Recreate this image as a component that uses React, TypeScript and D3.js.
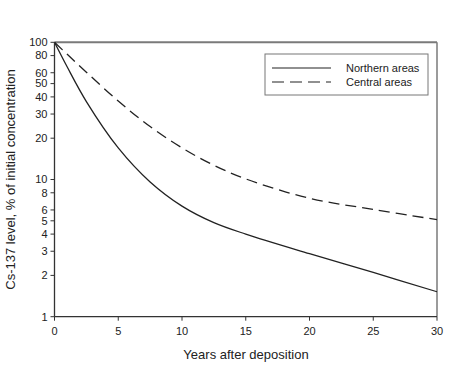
import React from 'react';
import * as d3 from 'd3';

// values (percent of initial concentration)
const years = [0, 1, 2.5, 5, 7.5, 10, 12.5, 15, 20, 25, 30];
const northern = [100, 66, 37, 17, 9.6, 6.4, 4.85, 4.0, 2.88, 2.1, 1.52];
const central = [100, 81.7, 60.5, 37.3, 24.3, 17.0, 12.7, 10.1, 7.3, 6.05, 5.1];

const xTicks = [0, 5, 10, 15, 20, 25, 30];
const yTicks = [1, 2, 3, 4, 5, 6, 8, 10, 20, 30, 40, 50, 60, 80, 100];

const seriesNames = ['Northern areas', 'Central areas'];

const W = 474;
const H = 366;
const margin = { left: 54.5, right: 37, top: 42.3, bottom: 49.3 };

const font = 'Liberation Sans, Arial, sans-serif';

const App: React.FC = () => {
  const x = d3.scaleLinear().domain([0, 30]).range([margin.left, W - margin.right]);
  const y = d3.scaleLog().domain([1, 100]).range([H - margin.bottom, margin.top]);

  const line = d3
    .line<number>()
    .x((_, i) => x(years[i]))
    .y(d => y(d))
    .curve(d3.curveCatmullRom.alpha(0.5));

  const x0 = x(0);
  const x1 = x(30);
  const y0 = y(1);
  const y1 = y(100);

  // legend box
  const lg = { x: 265, y: 54, w: 163, h: 41 };

  return (
    <svg
      width={W}
      height={H}
      style={{ position: 'absolute', left: 0, top: 0, background: '#fff' }}
      fontFamily={font}
    >
      {/* top and right frame */}
      <line x1={x0} x2={x1} y1={y1} y2={y1} stroke="#7a7a7a" strokeWidth={2} />
      <line x1={x1} x2={x1} y1={y1} y2={y0} stroke="#7a7a7a" strokeWidth={1.5} />

      {/* curves */}
      <path d={line(northern) || ''} fill="none" stroke="#222" strokeWidth={1.3} />
      <path
        d={line(central) || ''}
        fill="none"
        stroke="#222"
        strokeWidth={1.3}
        strokeDasharray="11,6"
      />

      {/* left axis */}
      <line x1={x0} x2={x0} y1={y1} y2={y0} stroke="#333" strokeWidth={1.3} />
      {yTicks.map(t => (
        <g key={'y' + t}>
          <line x1={x0 - 4} x2={x0} y1={y(t)} y2={y(t)} stroke="#333" strokeWidth={1} />
          <text
            x={x0 - 7}
            y={y(t)}
            dy="0.35em"
            textAnchor="end"
            fontSize={11}
            fill="#222"
          >
            {t}
          </text>
        </g>
      ))}

      {/* bottom axis */}
      <line x1={x0} x2={x1} y1={y0} y2={y0} stroke="#333" strokeWidth={1.3} />
      {xTicks.map(t => (
        <g key={'x' + t}>
          <line x1={x(t)} x2={x(t)} y1={y0} y2={y0 + 4} stroke="#333" strokeWidth={1} />
          <text x={x(t)} y={y0 + 18} textAnchor="middle" fontSize={11} fill="#222">
            {t}
          </text>
        </g>
      ))}

      {/* axis titles */}
      <text x={246} y={359} textAnchor="middle" fontSize={13} fill="#222">
        Years after deposition
      </text>
      <text
        transform={`translate(15, ${(y0 + y1) / 2}) rotate(-90)`}
        textAnchor="middle"
        fontSize={13}
        fill="#222"
      >
        Cs-137 level, % of initial concentration
      </text>

      {/* legend */}
      <rect x={lg.x} y={lg.y} width={lg.w} height={lg.h} fill="#fff" stroke="#777" strokeWidth={1} />
      {seriesNames.map((name, i) => {
        const ly = lg.y + 14 + i * 14;
        return (
          <g key={name}>
            <line
              x1={lg.x + 7}
              x2={lg.x + 66}
              y1={ly}
              y2={ly}
              stroke="#222"
              strokeWidth={1.2}
              strokeDasharray={i === 1 ? '12,6' : undefined}
            />
            <text x={lg.x + 81} y={ly} dy="0.35em" fontSize={11} fill="#222">
              {name}
            </text>
          </g>
        );
      })}
    </svg>
  );
};

export default App;
